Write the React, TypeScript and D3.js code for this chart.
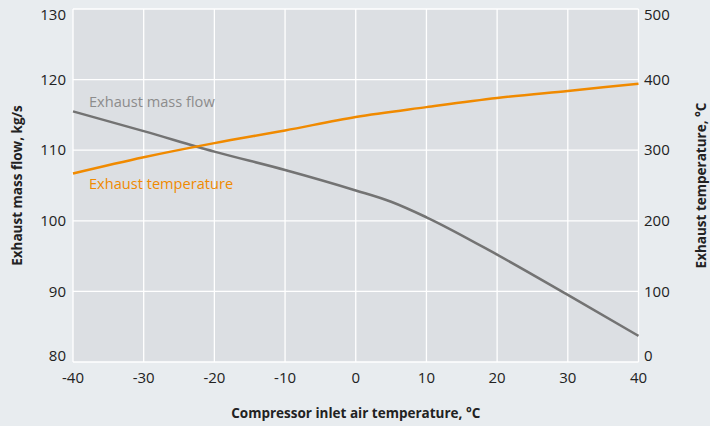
import React, { useEffect, useRef } from "react";
import * as d3 from "d3";

// values
const inletTemps = [-40, -30, -20, -10, 0, 5, 10, 20, 30, 40];
const massFlow = [115.5, 112.7, 109.8, 107.2, 104.3, 102.7, 100.5, 95.2, 89.5, 83.7];
const tempInlets = [-40, -30, -20, -10, 0, 10, 20, 30, 40];
const exhaustTemp = [267, 290, 310, 328, 347, 361, 374, 384, 394];

const xTicks = [-40, -30, -20, -10, 0, 10, 20, 30, 40];
const leftTicks = [80, 90, 100, 110, 120, 130];
const rightTicks = [0, 100, 200, 300, 400, 500];

const W = 710;
const H = 426;
const FONT = "'Open Sans', 'Noto Sans', sans-serif";

export default function App() {
  const ref = useRef<SVGSVGElement>(null);

  useEffect(() => {
    const svg = d3.select(ref.current);
    svg.selectAll("*").remove();

    const left = 73, right = 638.5, top = 9, bottom = 362;

    const x = d3.scaleLinear().domain([-40, 40]).range([left, right]);
    const yL = d3.scaleLinear().domain([80, 130]).range([bottom, top]);
    const yR = d3.scaleLinear().domain([0, 500]).range([bottom, top]);
    // edge labels are pulled inside the picture, as in the original
    const clampY = (v: number) => Math.max(15, Math.min(356, v));

    svg.append("rect").attr("width", W).attr("height", H).attr("fill", "#e8ecef");
    svg
      .append("rect")
      .attr("x", left)
      .attr("y", top)
      .attr("width", right - left)
      .attr("height", bottom - top)
      .attr("fill", "#dcdfe3");

    // grid
    const grid = svg.append("g").attr("stroke", "#ffffff").attr("stroke-width", 1.3);
    grid
      .selectAll("line.v")
      .data(xTicks)
      .join("line")
      .attr("class", "v")
      .attr("x1", (d) => x(d))
      .attr("x2", (d) => x(d))
      .attr("y1", top)
      .attr("y2", bottom);
    grid
      .selectAll("line.h")
      .data(leftTicks)
      .join("line")
      .attr("class", "h")
      .attr("x1", left)
      .attr("x2", right)
      .attr("y1", (d) => yL(d))
      .attr("y2", (d) => yL(d));

    const tickStyle = (sel: any) =>
      sel.attr("font-family", FONT).attr("font-size", 15).attr("fill", "#222");

    // left ticks
    svg
      .append("g")
      .selectAll("text")
      .data(leftTicks)
      .join("text")
      .call(tickStyle)
      .attr("x", 66)
      .attr("y", (d) => clampY(yL(d)))
      .attr("dy", "0.35em")
      .attr("text-anchor", "end")
      .text((d) => d);

    // right ticks
    svg
      .append("g")
      .selectAll("text")
      .data(rightTicks)
      .join("text")
      .call(tickStyle)
      .attr("x", 644)
      .attr("y", (d) => clampY(yR(d)))
      .attr("dy", "0.35em")
      .attr("text-anchor", "start")
      .text((d) => d);

    // x ticks
    svg
      .append("g")
      .selectAll("text")
      .data(xTicks)
      .join("text")
      .call(tickStyle)
      .attr("x", (d) => x(d))
      .attr("y", 383)
      .attr("text-anchor", "middle")
      .text((d) => d);

    // lines
    const massLine = d3
      .line<number>()
      .x((d, i) => x(inletTemps[i]))
      .y((d) => yL(d))
      .curve(d3.curveMonotoneX);
    const tempLine = d3
      .line<number>()
      .x((d, i) => x(tempInlets[i]))
      .y((d) => yR(d))
      .curve(d3.curveMonotoneX);

    svg
      .append("path")
      .attr("d", massLine(massFlow))
      .attr("fill", "none")
      .attr("stroke", "#737373")
      .attr("stroke-width", 2.5);
    svg
      .append("path")
      .attr("d", tempLine(exhaustTemp))
      .attr("fill", "none")
      .attr("stroke", "#f08a00")
      .attr("stroke-width", 2.5);

    // series labels
    svg
      .append("text")
      .attr("x", 89)
      .attr("y", 107)
      .attr("font-family", FONT)
      .attr("font-size", 14.6)
      .attr("fill", "#8c8c8c")
      .text("Exhaust mass flow");
    svg
      .append("text")
      .attr("x", 89)
      .attr("y", 189)
      .attr("font-family", FONT)
      .attr("font-size", 14.6)
      .attr("fill", "#f08a00")
      .text("Exhaust temperature");

    // axis titles
    const titleStyle = (sel: any) =>
      sel
        .attr("font-family", FONT)
        .attr("font-size", 13.5)
        .attr("font-weight", "bold")
        .attr("fill", "#222")
        .attr("text-anchor", "middle");

    svg
      .append("text")
      .call(titleStyle)
      .attr("transform", `translate(22,${(top + bottom) / 2}) rotate(-90)`)
      .text("Exhaust mass flow, kg/s");
    svg
      .append("text")
      .call(titleStyle)
      .attr("transform", `translate(706,${(top + bottom) / 2}) rotate(-90)`)
      .text("Exhaust temperature, °C");
    svg
      .append("text")
      .call(titleStyle)
      .attr("x", (left + right) / 2)
      .attr("y", 418)
      .text("Compressor inlet air temperature, °C");
  }, []);

  return (
    <svg
      ref={ref}
      width={W}
      height={H}
      style={{ position: "absolute", left: 0, top: 0, display: "block" }}
    />
  );
}
